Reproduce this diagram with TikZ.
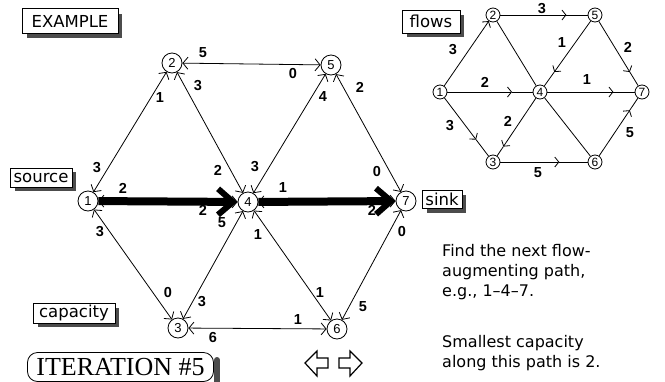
\documentclass[tikz,border=0pt]{standalone}
\usepackage{fontspec}
\setmainfont{DejaVu Sans}
\newfontfamily\labfont{Liberation Sans}
\newfontfamily\serfont{Liberation Serif}
\usetikzlibrary{arrows.meta,calc}
\begin{document}
\begin{tikzpicture}[x=1pt,y=-1pt,
  vtx/.style={circle,draw,fill=white,line width=0.8pt,minimum size=20pt,inner sep=0pt,font=\labfont\fontsize{13}{13}\selectfont},
  svtx/.style={circle,draw,fill=white,line width=0.8pt,minimum size=14pt,inner sep=0pt,font=\labfont\fontsize{12}{12}\selectfont},
  conn/.style={line width=0.8pt,{Straight Barb[length=5pt,width=12pt]}-{Straight Barb[length=5pt,width=12pt]}},
  heavyconn/.style={line width=8pt,-{Straight Barb[length=15pt,width=26pt,line width=6pt]}},
  sconn/.style={line width=0.8pt},
  sarrow/.style={line width=0.8pt,-{Straight Barb[length=4pt,width=10pt]}},
  capnum/.style={font=\labfont\bfseries\fontsize{14.5}{14.5}\selectfont,inner sep=0pt},
  tagbox/.style={draw,fill=white,line width=0.8pt,font=\fontsize{16.5}{16.5}\selectfont,inner sep=0pt},
  shadowline/.style={line width=4pt,line join=miter,line cap=butt,color=black!70},
  txtline/.style={anchor=base west,inner sep=0pt,font=\fontsize{16}{20}\selectfont},
]
\useasboundingbox (0,0) rectangle (665,381);

% tag shadows (plain strokes, absolute positions)
\coordinate (exA) at (27,35.5);  \coordinate (exB) at (120,35.5);  \coordinate (exC) at (120,13.5);
\coordinate (flA) at (407,35);   \coordinate (flB) at (462,35);    \coordinate (flC) at (462,15);
\coordinate (soA) at (15,189);   \coordinate (soB) at (74,189);    \coordinate (soC) at (74,172);
\coordinate (caA) at (38,325);   \coordinate (caB) at (117,325);   \coordinate (caC) at (117,308);
\coordinate (siA) at (427,210.5);\coordinate (siB) at (464,210.5); \coordinate (siC) at (464,195);
\draw[shadowline] (exA) -- (exB) -- (exC);
\draw[shadowline] (flA) -- (flB) -- (flC);
\draw[shadowline] (soA) -- (soB) -- (soC);
\draw[shadowline] (caA) -- (caB) -- (caC);
\draw[shadowline] (siA) -- (siB) -- (siC);
\coordinate (itA) at (217,360);  \coordinate (itB) at (217,384);
\draw[line width=6pt,line cap=round,color=black!70] (itA) -- (itB);

% tags
\node[tagbox,minimum width=96pt,minimum height=25pt] (ex) at (70,21) {EXAMPLE};
\node[tagbox,minimum width=58pt,minimum height=23pt] (fl) at (431,21.5) {flows};
\node[tagbox,minimum width=62pt,minimum height=19pt] (so) at (41,177.5) {source};
\node[tagbox,minimum width=82pt,minimum height=20pt] (ca) at (74,313) {capacity};
\node[tagbox,minimum width=40pt,minimum height=18pt] (si) at (442,199.5) {sink};
\node[draw,fill=white,line width=0.8pt,rounded corners=10pt,minimum width=186pt,minimum height=29pt,inner sep=0pt,
  font=\serfont\fontsize{26}{26}\selectfont] (it) at (120.5,367) {ITERATION \#5};

% main graph nodes
\node[vtx] (n1) at (88,201) {1};
\node[vtx] (n2) at (172,63) {2};
\node[vtx] (n3) at (178,328) {3};
\node[vtx] (n4) at (248,202) {4};
\node[vtx] (n5) at (331,65) {5};
\node[vtx] (n6) at (337,329) {6};
\node[vtx] (n7) at (406,201) {7};

% main edges
\draw[conn] (n1) -- (n2);
\draw[conn] (n2) -- (n5);
\draw[conn] (n2) -- (n4);
\draw[conn] (n5) -- (n4);
\draw[conn] (n5) -- (n7);
\draw[conn] (n1) -- (n4);
\draw[conn] (n4) -- (n7);
\draw[conn] (n1) -- (n3);
\draw[conn] (n3) -- (n4);
\draw[conn] (n4) -- (n6);
\draw[conn] (n3) -- (n6);
\draw[conn] (n6) -- (n7);
\draw[heavyconn] (n1) -- (n4);
\draw[heavyconn] (n4) -- (n7);

% capacities
\node[capnum] (c12a) at (97,168) {3};
\node[capnum] (c12b) at (160,98) {1};
\node[capnum] (c24a) at (198,86) {3};
\node[capnum] (c24b) at (218,170) {2};
\node[capnum] (c25a) at (203,53) {5};
\node[capnum] (c25b) at (293,74) {0};
\node[capnum] (c54a) at (323,97) {4};
\node[capnum] (c54b) at (255,167) {3};
\node[capnum] (c57a) at (360,87) {2};
\node[capnum] (c57b) at (377,172) {0};
\node[capnum] (c14a) at (123,188) {2};
\node[capnum] (c14b) at (203,210) {2};
\node[capnum] (c47a) at (283,188) {1};
\node[capnum] (c47b) at (372,210) {2};
\node[capnum] (c13a) at (100,232) {3};
\node[capnum] (c13b) at (168,293) {0};
\node[capnum] (c34a) at (202,302) {3};
\node[capnum] (c34b) at (222,223) {5};
\node[capnum] (c46a) at (258,235) {1};
\node[capnum] (c46b) at (320,293) {1};
\node[capnum] (c36a) at (213,338) {6};
\node[capnum] (c36b) at (298,320) {1};
\node[capnum] (c67a) at (363,307) {5};
\node[capnum] (c67b) at (402,232) {0};

% small flow graph
\node[svtx] (s1) at (440,92) {1};
\node[svtx] (s2) at (493,15) {2};
\node[svtx] (s3) at (493,162) {3};
\node[svtx] (s4) at (540,92) {4};
\node[svtx] (s5) at (595,15) {5};
\node[svtx] (s6) at (595,162) {6};
\node[svtx] (s7) at (642,92) {7};

\coordinate (m25) at ($(s2)!0.72!(s5)$);
\coordinate (m14) at ($(s1)!0.72!(s4)$);
\coordinate (m47) at ($(s4)!0.72!(s7)$);
\coordinate (m36) at ($(s3)!0.65!(s6)$);
\coordinate (m13) at ($(s1)!0.68!(s3)$);
\coordinate (m54) at ($(s5)!0.74!(s4)$);
\coordinate (m43) at ($(s4)!0.78!(s3)$);
\coordinate (m57) at ($(s5)!0.74!(s7)$);
\coordinate (m67) at ($(s6)!0.74!(s7)$);

\draw[sarrow] (s2) -- (m25); \draw[sconn] (m25) -- (s5);
\draw[sarrow] (s1) -- (m14); \draw[sconn] (m14) -- (s4);
\draw[sarrow] (s4) -- (m47); \draw[sconn] (m47) -- (s7);
\draw[sarrow] (s3) -- (m36); \draw[sconn] (m36) -- (s6);
\draw[sarrow] (s1) -- (m13); \draw[sconn] (m13) -- (s3);
\draw[sarrow] (s5) -- (m54); \draw[sconn] (m54) -- (s4);
\draw[sarrow] (s4) -- (m43); \draw[sconn] (m43) -- (s3);
\draw[sarrow] (s5) -- (m57); \draw[sconn] (m57) -- (s7);
\draw[sarrow] (s6) -- (m67); \draw[sconn] (m67) -- (s7);
\draw[sarrow] (s1) -- (s2);
\draw[sconn] (s2) -- (s4);
\draw[sconn] (s4) -- (s6);

\node[capnum] (f25) at (542,9) {3};
\node[capnum] (f12) at (453,50) {3};
\node[capnum] (f14) at (485,82) {2};
\node[capnum] (f13) at (450,126) {3};
\node[capnum] (f43) at (508,121) {2};
\node[capnum] (f36) at (538,173) {5};
\node[capnum] (f54) at (562,43) {1};
\node[capnum] (f47) at (587,80) {1};
\node[capnum] (f57) at (628,47) {2};
\node[capnum] (f67) at (630,133) {5};

% explanatory text
\node[txtline] (t1) at (442,256.5) {Find the next flow-};
\node[txtline] (t2) at (442,276.5) {augmenting path,};
\node[txtline] (t3) at (442,296.5) {e.g., 1–4–7.};
\node[txtline] (t4) at (442,347.5) {Smallest capacity};
\node[txtline] (t5) at (442,367.5) {along this path is 2.};

% navigation arrows
\draw[line width=1.2pt,line join=miter] (305,363) -- (317,351) -- (317,358) -- (328,358) -- (328,368) -- (317,368) -- (317,376) -- cycle;
\draw[line width=1.2pt,line join=miter] (362,363) -- (350,351) -- (350,358) -- (339,358) -- (339,368) -- (350,368) -- (350,376) -- cycle;
\end{tikzpicture}
\end{document}
